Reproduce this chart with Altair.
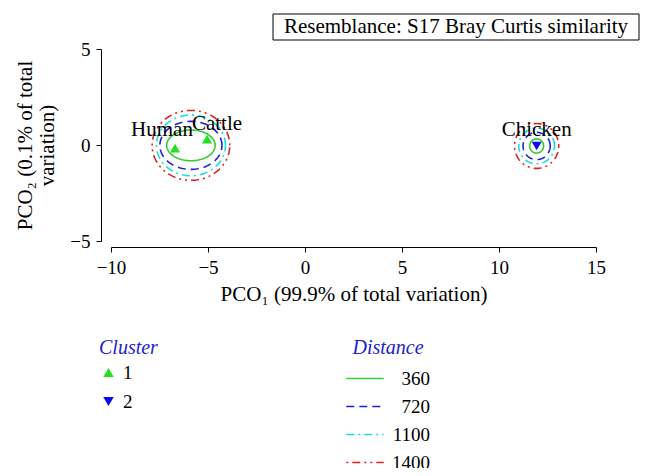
import altair as alt
import pandas as pd
import numpy as np

# ---- data ----
samples = ["Human", "Cattle", "Chicken"]
pco1 = [-6.7, -5.05, 11.94]
pco2 = [-0.16, 0.31, -0.05]
clusters = ["1", "1", "2"]

distance_levels = ["360", "720", "1100", "1400"]
group_names = ["Human-Cattle", "Chicken"]
group_cx = [-5.88, 11.94]
group_cy = [-0.02, -0.05]
# semi-axes (PCO1, PCO2) of each distance contour, per group
rx_hc = [1.25, 1.6, 1.78, 2.0]
ry_hc = [0.8, 1.25, 1.58, 1.82]
rx_ch = [0.36, 0.7, 0.92, 1.14]
ry_ch = [0.37, 0.71, 0.93, 1.17]

x_ticks = [-10, -5, 0, 5, 10, 15]
y_ticks = [-5, 0, 5]
title_text = "Resemblance: S17 Bray Curtis similarity"

FONT = "Liberation Serif"
GREEN = "#33cc33"
BLUE = "#1f1fd6"
CYAN = "#16dede"
RED = "#e02020"
PT_GREEN = "#22e022"
PT_BLUE = "#0a0ae8"
LEG_TITLE = "#2323c8"

pts = pd.DataFrame({"sample": samples, "x": pco1, "y": pco2, "Cluster": clusters})

rows = []
theta = np.linspace(0, 2 * np.pi, 145)
for g, cx, cy, rxs, rys in zip(group_names, group_cx, group_cy, [rx_hc, rx_ch], [ry_hc, ry_ch]):
    for lev, rx, ry in zip(distance_levels, rxs, rys):
        for i, t in enumerate(theta):
            rows.append({"group": g, "Distance": lev, "i": i,
                         "x": cx + rx * np.cos(t), "y": cy + ry * np.sin(t)})
cont = pd.DataFrame(rows)

xs = alt.Scale(domain=[-10, 15], nice=False, zero=False)
ys = alt.Scale(domain=[-5, 5], nice=False, zero=False)

x_enc = alt.X("x:Q", scale=xs, axis=alt.Axis(
    values=x_ticks, offset=6, title="PCO₁ (99.9% of total variation)",
    grid=False, tickSize=5, labelPadding=6, titlePadding=6,
    labelFontSize=19, titleFontSize=21, labelFont=FONT, titleFont=FONT,
    titleFontWeight="normal", domainColor="black", tickColor="black",
    labelColor="black", titleColor="black", labelFlush=False))
y_enc = alt.Y("y:Q", scale=ys, axis=alt.Axis(
    values=y_ticks, offset=10, title=["PCO₂ (0.1% of total", "variation)"],
    grid=False, tickSize=5, labelPadding=6, titlePadding=12,
    labelFontSize=19, titleFontSize=21, labelFont=FONT, titleFont=FONT,
    titleFontWeight="normal", domainColor="black", tickColor="black",
    labelColor="black", titleColor="black", titleLineHeight=22, labelFlush=False))

dist_legend = alt.Legend(
    title="Distance", orient="none", legendX=234, legendY=289,
    symbolType="stroke", symbolSize=1400, symbolStrokeWidth=1.6,
    titlePadding=11, titleAnchor="middle",
    labelAlign="right", labelOffset=45, rowPadding=8, clipHeight=19)

lines = alt.Chart(cont).mark_line(strokeWidth=1.6).encode(
    x=x_enc, y=y_enc,
    order="i:Q",
    detail="group:N",
    stroke=alt.Stroke("Distance:N", sort=distance_levels,
                      scale=alt.Scale(domain=distance_levels,
                                      range=[GREEN, BLUE, CYAN, RED]),
                      legend=dist_legend),
    strokeDash=alt.StrokeDash("Distance:N", sort=distance_levels,
                              scale=alt.Scale(domain=distance_levels,
                                              range=[[1, 0], [8, 5], [8, 4, 2, 4], [2, 4, 8, 4, 2, 4]]),
                              legend=dist_legend),
)

clus_legend = alt.Legend(
    title="Cluster", orient="none", legendX=-12, legendY=289,
    symbolSize=110, titlePadding=5, rowPadding=9, clipHeight=19,
    symbolStrokeWidth=0, labelOffset=5)

points = alt.Chart(pts).mark_point(filled=True, size=100, opacity=1).encode(
    x=x_enc, y=y_enc,
    color=alt.Color("Cluster:N", scale=alt.Scale(domain=["1", "2"], range=[PT_GREEN, PT_BLUE]),
                    legend=clus_legend),
    shape=alt.Shape("Cluster:N", scale=alt.Scale(domain=["1", "2"],
                                                 range=["triangle-up", "triangle-down"]),
                    legend=clus_legend),
)

label_offsets = {"Human": (-13, -18), "Cattle": (10, -15), "Chicken": (0, -16)}
labels = []
for s in samples:
    dx, dy = label_offsets[s]
    labels.append(
        alt.Chart(pts).transform_filter(alt.datum.sample == s)
        .mark_text(font=FONT, fontSize=21, color="black", dx=dx, dy=dy,
                   align="center", baseline="middle")
        .encode(x=x_enc, y=y_enc, text="sample:N")
    )

one = pd.DataFrame({"t": [title_text]})
box = alt.Chart(one).mark_rect(fill="white", stroke="black", strokeWidth=1).encode(
    x=alt.value(162), x2=alt.value(528), y=alt.value(-35), y2=alt.value(-9))
box_text = alt.Chart(one).mark_text(font=FONT, fontSize=21, color="black",
                                    align="center", baseline="middle").encode(
    x=alt.value(345), y=alt.value(-22), text="t:N")

chart = alt.layer(lines, points, *labels, box, box_text).properties(
    width=485, height=192,
    autosize=alt.AutoSizeParams(type="none"),
    padding={"left": 103, "top": 41, "right": 50, "bottom": 227},
).configure(background="white").configure_view(
    strokeWidth=0, stroke="transparent"
).configure_legend(
    titleFont=FONT, titleFontSize=20, titleFontStyle="italic",
    titleFontWeight="normal", titleColor=LEG_TITLE,
    labelFont=FONT, labelFontSize=19, labelColor="black", labelFontWeight="normal",
)

chart.save("out.html", embed_options={"renderer": "svg", "actions": False})
